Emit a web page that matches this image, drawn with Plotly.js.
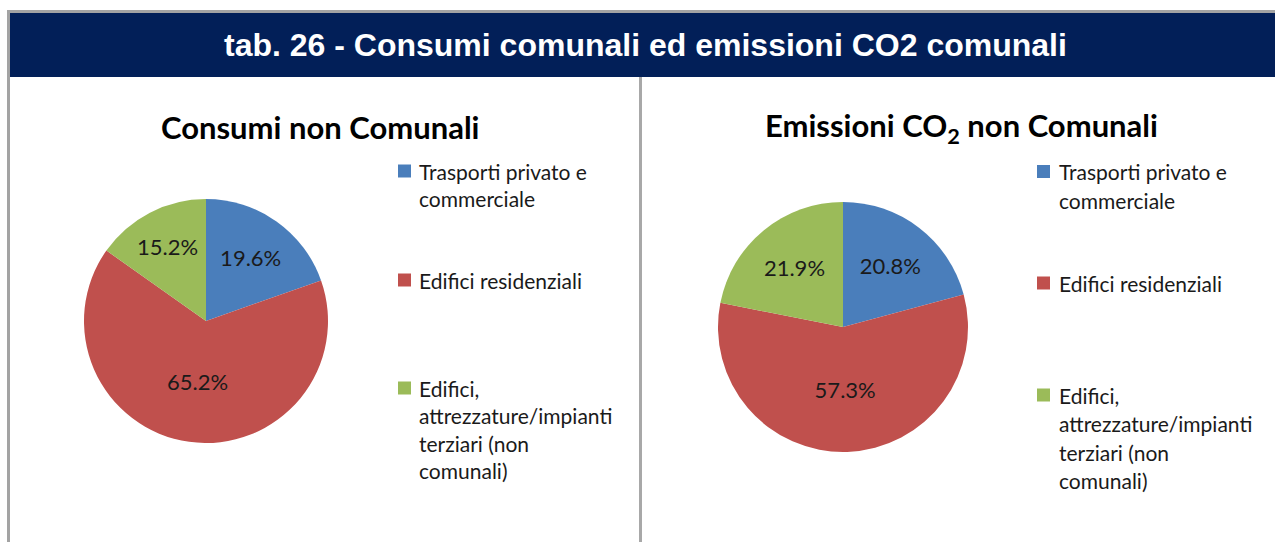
<!DOCTYPE html>
<html>
<head>
<meta charset="utf-8">
<script src="https://cdn.plot.ly/plotly-3.0.1.min.js"></script>
<style>
html,body{margin:0;padding:0;background:#fff;}
#chart{width:1275px;height:542px;}
</style>
</head>
<body>
<div id="chart"></div>
<script>
// ---- data ----
const headerTitle = "tab. 26 - Consumi comunali ed emissioni CO2 comunali";
const chartTitles = ["Consumi non Comunali", "Emissioni CO<sub>2</sub> non Comunali"];
const categories = [
  "Trasporti privato e<br>commerciale",
  "Edifici residenziali",
  "Edifici,<br>attrezzature/impianti<br>terziari (non<br>comunali)"
];
const consumiValues = [19.6, 65.2, 15.2];
const emissioniValues = [20.8, 57.3, 21.9];
const sliceColors = ["#4a7ebb", "#c0504d", "#9bbb59"];

// ---- layout helpers ----
const W = 1275, H = 542;
const px = x => x / W;
const py = y => 1 - y / H;

function pieTrace(values, cx, cy, r) {
  return {
    type: "pie",
    labels: categories.map(c => c.replace(/<br>/g, " ")),
    values: values,
    sort: false,
    direction: "clockwise",
    rotation: 0,
    marker: {colors: sliceColors, line: {width: 0}},
    texttemplate: "%{percent:.1%}",
    textposition: "inside",
    insidetextorientation: "horizontal",
    textfont: {family: "Lato, 'Open Sans', sans-serif", size: 22, color: "#1a1a1a"},
    hoverinfo: "label+percent",
    showlegend: false,
    domain: {x: [px(cx - r), px(cx + r)], y: [py(cy + r), py(cy - r)]}
  };
}

const data = [
  pieTrace(consumiValues, 206, 321, 122),
  pieTrace(emissioniValues, 843, 327, 125)
];

const shapes = [
  // header bar
  {type: "rect", xref: "paper", yref: "paper", x0: px(10), x1: 1, y0: py(77), y1: py(13),
   fillcolor: "#021f58", line: {width: 0}, layer: "below"},
  // top grey line
  {type: "rect", xref: "paper", yref: "paper", x0: px(7), x1: 1, y0: py(13), y1: py(10),
   fillcolor: "#a3a3a3", line: {width: 0}, layer: "below"},
  // left grey border
  {type: "rect", xref: "paper", yref: "paper", x0: px(7), x1: px(10), y0: 0, y1: py(10),
   fillcolor: "#a3a3a3", line: {width: 0}, layer: "below"},
  // middle divider
  {type: "rect", xref: "paper", yref: "paper", x0: px(639), x1: px(642), y0: 0, y1: py(77),
   fillcolor: "#a8a8a8", line: {width: 0}, layer: "below"}
];

const annotations = [
  {xref: "paper", yref: "paper", x: px(645), y: py(45), xanchor: "center", yanchor: "middle",
   text: "<b>" + headerTitle + "</b>", showarrow: false,
   font: {family: "'Liberation Sans', Arial, sans-serif", size: 32, color: "#ffffff"}},
  {xref: "paper", yref: "paper", x: px(320), y: py(127), xanchor: "center", yanchor: "middle",
   text: "<b>" + chartTitles[0] + "</b>", showarrow: false,
   font: {family: "Lato, sans-serif", size: 31, color: "#000000"}},
  {xref: "paper", yref: "paper", x: px(961), y: py(127), xanchor: "center", yanchor: "middle",
   text: "<b>" + chartTitles[1] + "</b>", showarrow: false,
   font: {family: "Lato, sans-serif", size: 31, color: "#000000"}}
];

// legends (one per chart)
const legends = [
  {sq: 398, tx: 417, starts: [171, 280, 388], step: 27.5},
  {sq: 1037, tx: 1057, starts: [171.5, 283, 395], step: 28.5}
];
legends.forEach(lg => {
  categories.forEach((cat, i) => {
    const y0 = lg.starts[i];
    shapes.push({type: "rect", xref: "paper", yref: "paper",
      x0: px(lg.sq), x1: px(lg.sq + 13), y0: py(y0 + 6.5), y1: py(y0 - 6.5),
      fillcolor: sliceColors[i], line: {width: 0}});
    cat.split("<br>").forEach((line, j) => {
      annotations.push({xref: "paper", yref: "paper", x: px(lg.tx), y: py(y0 + j * lg.step),
        xanchor: "left", yanchor: "middle", text: line, showarrow: false,
        font: {family: "Lato, sans-serif", size: 21, color: "#1a1a1a"}});
    });
  });
});

const layout = {
  width: W, height: H,
  margin: {l: 0, r: 0, t: 0, b: 0},
  paper_bgcolor: "#ffffff",
  plot_bgcolor: "#ffffff",
  showlegend: false,
  shapes: shapes,
  annotations: annotations
};

Plotly.newPlot("chart", data, layout, {displayModeBar: false, staticPlot: true});
</script>
</body>
</html>
